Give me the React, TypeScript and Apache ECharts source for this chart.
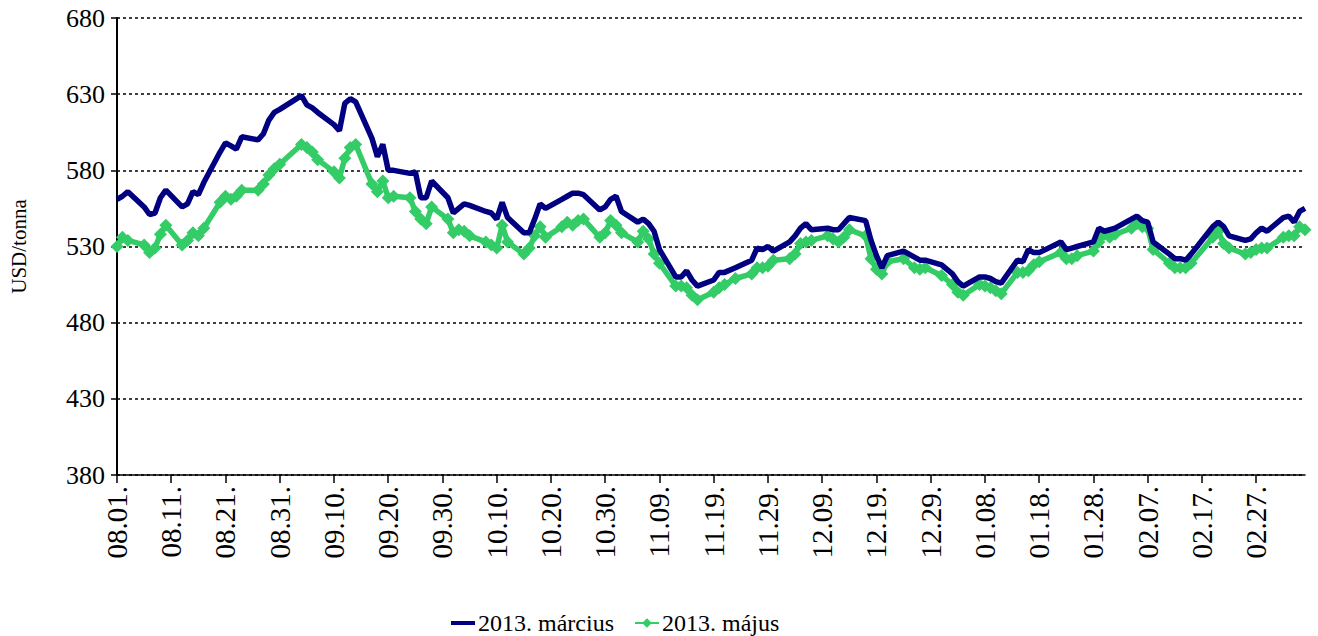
import React, { useEffect, useRef } from 'react';
import * as echarts from 'echarts';

const START = '2012-08-01';
const END = '2013-03-08';

const tradingDays = [
  '2012-08-01','2012-08-02','2012-08-03','2012-08-06','2012-08-07','2012-08-08','2012-08-09','2012-08-10','2012-08-13','2012-08-14','2012-08-15','2012-08-16','2012-08-17','2012-08-20','2012-08-21','2012-08-22','2012-08-23','2012-08-24','2012-08-27','2012-08-28','2012-08-29','2012-08-30','2012-08-31',
  '2012-09-04','2012-09-05','2012-09-06','2012-09-07','2012-09-10','2012-09-11','2012-09-12','2012-09-13','2012-09-14','2012-09-17','2012-09-18','2012-09-19','2012-09-20','2012-09-21','2012-09-24','2012-09-25','2012-09-26','2012-09-27','2012-09-28',
  '2012-10-01','2012-10-02','2012-10-03','2012-10-04','2012-10-05','2012-10-08','2012-10-09','2012-10-10','2012-10-11','2012-10-12','2012-10-15','2012-10-16','2012-10-17','2012-10-18','2012-10-19','2012-10-22','2012-10-23','2012-10-24','2012-10-25','2012-10-26','2012-10-29','2012-10-30','2012-10-31',
  '2012-11-01','2012-11-02','2012-11-05','2012-11-06','2012-11-07','2012-11-08','2012-11-09','2012-11-12','2012-11-13','2012-11-14','2012-11-15','2012-11-16','2012-11-19','2012-11-20','2012-11-21','2012-11-23','2012-11-26','2012-11-27','2012-11-28','2012-11-29','2012-11-30',
  '2012-12-03','2012-12-04','2012-12-05','2012-12-06','2012-12-07','2012-12-10','2012-12-11','2012-12-12','2012-12-13','2012-12-14','2012-12-17','2012-12-18','2012-12-19','2012-12-20','2012-12-21','2012-12-24','2012-12-26','2012-12-27','2012-12-28','2012-12-31',
  '2013-01-02','2013-01-03','2013-01-04','2013-01-07','2013-01-08','2013-01-09','2013-01-10','2013-01-11','2013-01-14','2013-01-15','2013-01-16','2013-01-17','2013-01-18','2013-01-22','2013-01-23','2013-01-24','2013-01-25','2013-01-28','2013-01-29','2013-01-30','2013-01-31',
  '2013-02-01','2013-02-04','2013-02-05','2013-02-06','2013-02-07','2013-02-08','2013-02-11','2013-02-12','2013-02-13','2013-02-14','2013-02-15','2013-02-19','2013-02-20','2013-02-21','2013-02-22','2013-02-25','2013-02-26','2013-02-27','2013-02-28',
  '2013-03-01','2013-03-04','2013-03-05','2013-03-06','2013-03-07','2013-03-08',
];

// 2013. március (USD/tonna)
const marcius = [
  561,563,566,556,551,552,562,567,556,558,566,564,572,592,598,596,594,602,600,604,613,618,620,
  629,623,621,618,610,606,624,627,625,601,589,597,580,580,578,579,562,562,573,
  562,552,555,558,557,553,552,548,559,549,539,539,548,558,555,561,563,565,565,564,554,556,561,
  563,553,546,548,545,540,528,510,510,514,508,504,508,513,513,516,521,529,528,530,527,
  533,537,542,545,541,542,541,541,545,549,547,534,524,516,524,527,523,521,521,518,
  512,507,504,510,510,509,507,506,521,520,528,526,526,533,528,529,530,533,542,540,541,
  542,548,550,547,546,533,525,522,522,521,525,543,546,543,537,534,535,539,542,
  540,549,550,546,553,555,
];

// 2013. május (USD/tonna)
const majus = [
  530,536,534,531,526,529,538,544,531,534,539,537,542,559,563,561,563,567,567,571,577,581,584,
  597,595,592,587,579,575,588,595,597,571,566,573,562,563,562,553,548,545,556,
  548,539,541,540,537,533,531,529,544,533,525,529,537,543,536,543,546,544,547,548,536,539,547,
  544,539,533,540,535,525,519,504,504,503,498,495,500,503,505,509,512,516,516,517,521,
  522,525,532,533,534,537,535,533,536,541,537,522,515,512,520,522,516,515,516,511,
  505,500,498,505,504,503,501,499,513,513,514,518,520,526,522,522,524,527,533,538,536,
  538,542,545,543,542,528,519,516,516,516,519,536,540,532,529,525,526,528,529,
  529,536,537,537,543,541,
];

const seriesNames = ['2013. március', '2013. május'];
const Y_MIN = 380;
const Y_MAX = 680;
const Y_STEP = 50;

const FONT = "'Liberation Serif', 'Times New Roman', serif";

function buildCalendar(): string[] {
  const out: string[] = [];
  const d = new Date(START + 'T00:00:00Z');
  const end = new Date(END + 'T00:00:00Z');
  while (d.getTime() <= end.getTime()) {
    out.push(d.toISOString().slice(0, 10));
    d.setUTCDate(d.getUTCDate() + 1);
  }
  return out;
}

export default function App() {
  const ref = useRef<HTMLDivElement>(null);
  useEffect(() => {
    document.body.style.margin = '0';
    const chart = echarts.init(ref.current!, null, { renderer: 'svg' });
    const calendar = buildCalendar();
    const mapVals = (vals: number[]) => {
      const m = new Map<string, number>();
      tradingDays.forEach((d, i) => m.set(d, vals[i]));
      return calendar.map((d) => (m.has(d) ? m.get(d)! : null));
    };
    chart.setOption({
      animation: false,
      grid: { left: 115, right: 13, top: 18, bottom: 161, containLabel: false },
      legend: {
        data: [
          { name: seriesNames[0], icon: 'path://M0 0H24V4H0Z' },
          { name: seriesNames[1] },
        ],
        left: 446,
        top: 606,
        itemWidth: 24,
        itemHeight: 12,
        itemGap: 20,
        textStyle: { fontFamily: FONT, fontSize: 24, color: '#000', padding: [0, 0, 0, -2] },
      },
      xAxis: {
        type: 'category',
        data: calendar,
        boundaryGap: false,
        axisLine: { show: true, lineStyle: { color: '#000', width: 1.5 } },
        axisTick: { show: true, interval: 9, length: 8, lineStyle: { color: '#000', width: 1.5 } },
        axisLabel: {
          interval: 9,
          rotate: 90,
          margin: 11,
          fontFamily: FONT,
          fontSize: 29,
          color: '#000',
          formatter: (v: string) => `${v.slice(5, 7)}.${v.slice(8, 10)}.`,
        },
        splitLine: { show: false },
      },
      yAxis: {
        type: 'value',
        min: Y_MIN,
        max: Y_MAX,
        interval: Y_STEP,
        name: 'USD/tonna',
        nameLocation: 'middle',
        nameGap: 88,
        nameTextStyle: { fontFamily: FONT, fontSize: 21, color: '#000', padding: [0, 0, 0, 0] },
        axisLine: { show: true, lineStyle: { color: '#000', width: 2 } },
        axisTick: { show: true, length: 6, lineStyle: { color: '#000', width: 1.5 } },
        axisLabel: { margin: 12, fontFamily: FONT, fontSize: 26, color: '#000' },
        splitLine: { show: true, lineStyle: { color: '#000', type: [3, 3], width: 1.5 } },
      },
      series: [
        {
          name: seriesNames[0],
          type: 'line',
          data: mapVals(marcius),
          connectNulls: true,
          symbol: 'none',
          lineStyle: { color: '#000080', width: 5.5 },
          itemStyle: { color: '#000080' },
          z: 3,
        },
        {
          name: seriesNames[1],
          type: 'line',
          data: mapVals(majus),
          connectNulls: true,
          symbol: 'diamond',
          symbolSize: 13,
          showSymbol: true,
          showAllSymbol: true,
          lineStyle: { color: '#33CC66', width: 5.5 },
          itemStyle: { color: '#33CC66', borderWidth: 0 },
          z: 2,
        },
      ],
    });
    return () => chart.dispose();
  }, []);
  return <div ref={ref} style={{ width: 1318, height: 636 }} />;
}
